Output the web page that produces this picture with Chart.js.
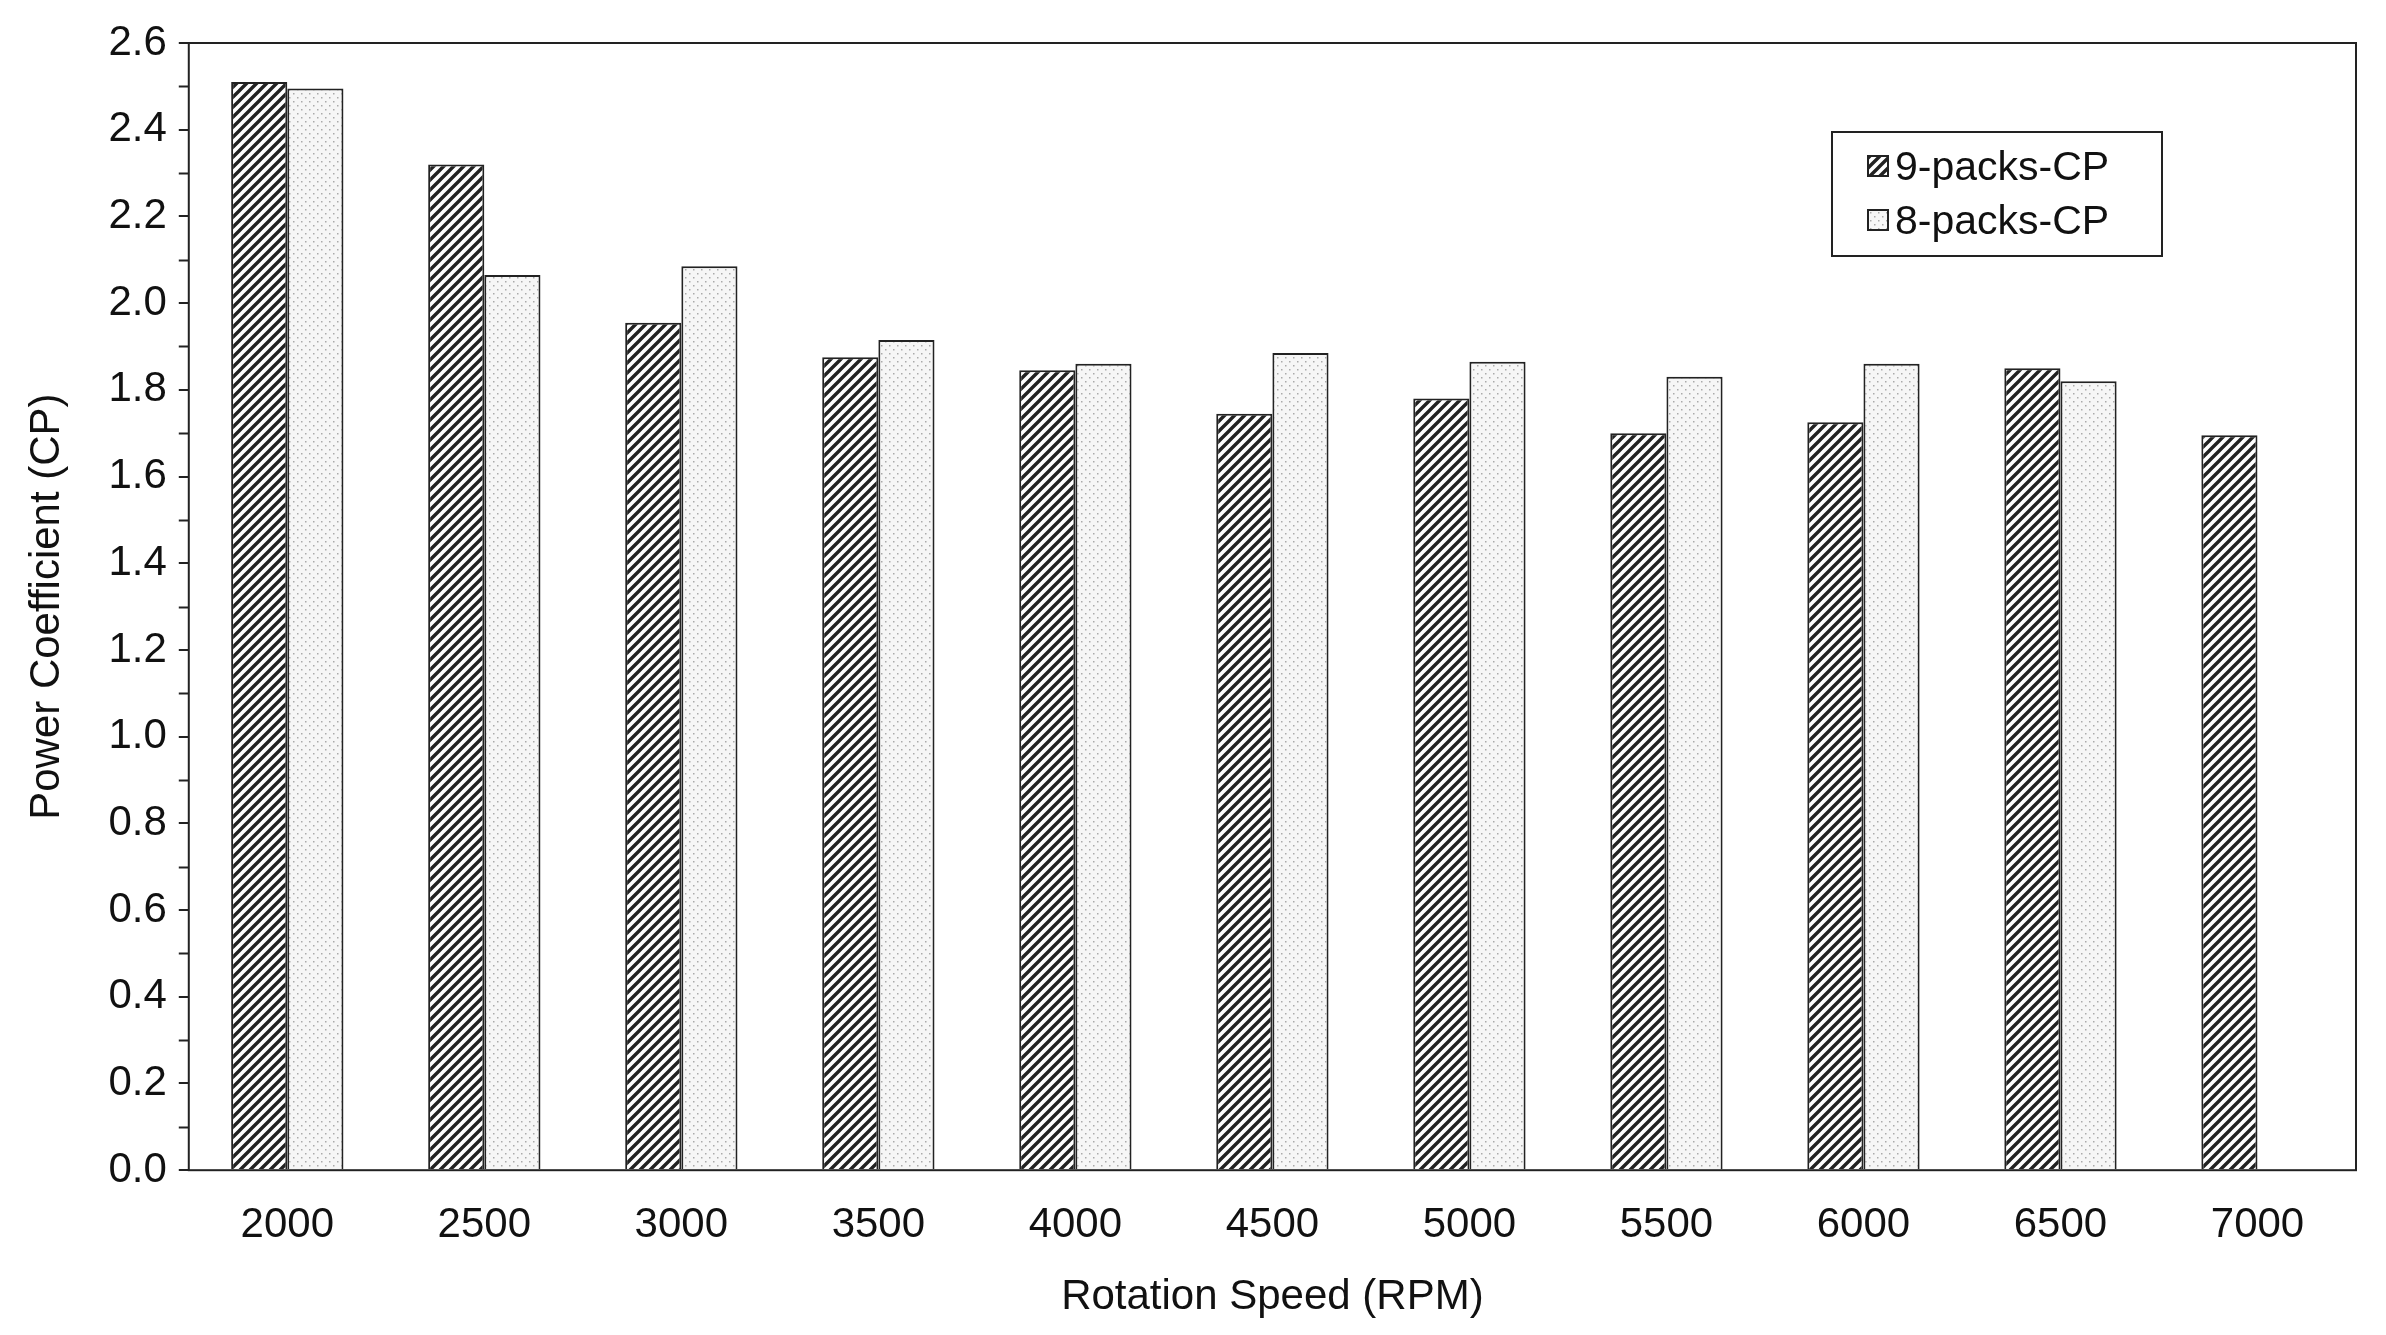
<!DOCTYPE html>
<html>
<head>
<meta charset="utf-8">
<script src="https://cdn.jsdelivr.net/npm/chart.js@4"></script>
<style>
  html, body { margin: 0; padding: 0; background: #fff; }
  #wrap { position: relative; width: 2386px; height: 1335px; }
  #legend {
    position: absolute; left: 1831px; top: 131px; width: 332px; height: 126px;
    border: 2px solid #222; background: #fff; font-family: "Liberation Sans", Arial, sans-serif;
    font-size: 41px; color: #111; box-sizing: border-box; padding: 6px 0 0 34px;
  }
  #legend div { display: flex; align-items: center; height: 54px; }
  #legend canvas { margin-right: 6px; border: 2px solid #222; }
</style>
</head>
<body>
<div id="wrap">
  <canvas id="c" width="2386" height="1335"></canvas>
  <div id="legend">
    <div><canvas id="l1" width="18" height="18"></canvas>9-packs-CP</div>
    <div><canvas id="l2" width="18" height="18"></canvas>8-packs-CP</div>
  </div>
</div>
<script>
const speeds = ["2000", "2500", "3000", "3500", "4000", "4500", "5000", "5500", "6000", "6500", "7000"];
const cp9 = [2.51, 2.32, 1.955, 1.875, 1.845, 1.745, 1.78, 1.70, 1.725, 1.85, 1.695];
const cp8 = [2.495, 2.065, 2.085, 1.915, 1.86, 1.885, 1.865, 1.83, 1.86, 1.82, null];

function hatch() {
  const p = document.createElement("canvas");
  p.width = 10; p.height = 10;
  const g = p.getContext("2d");
  g.fillStyle = "#fff"; g.fillRect(0, 0, 10, 10);
  g.strokeStyle = "#222"; g.lineWidth = 3.4;
  g.beginPath();
  g.moveTo(-2, 12); g.lineTo(12, -2);
  g.moveTo(-7, 7); g.lineTo(7, -7);
  g.moveTo(3, 17); g.lineTo(17, 3);
  g.stroke();
  return p;
}
function dots() {
  const p = document.createElement("canvas");
  p.width = 8; p.height = 8;
  const g = p.getContext("2d");
  g.fillStyle = "#f6f6f6"; g.fillRect(0, 0, 8, 8);
  g.fillStyle = "#aaa";
  g.fillRect(1, 1, 1.5, 1.5);
  g.fillRect(5, 5, 1.5, 1.5);
  return p;
}

const ctx = document.getElementById("c").getContext("2d");
const hatchPat = ctx.createPattern(hatch(), "repeat");
const dotPat = ctx.createPattern(dots(), "repeat");

["l1", "l2"].forEach((id, i) => {
  const g = document.getElementById(id).getContext("2d");
  g.fillStyle = g.createPattern(i === 0 ? hatch() : dots(), "repeat");
  g.fillRect(0, 0, 18, 18);
});

const frame = {
  id: "frame",
  afterDraw(chart) {
    const a = chart.chartArea, g = chart.ctx, y = chart.scales.y;
    g.save();
    g.strokeStyle = "#222"; g.lineWidth = 2;
    g.strokeRect(a.left, a.top, a.right - a.left, a.bottom - a.top);
    // minor ticks
    for (let v = 0.1; v < 2.6; v += 0.2) {
      const py = Math.round(y.getPixelForValue(v)) + 0.5;
      g.beginPath(); g.moveTo(a.left - 10, py); g.lineTo(a.left, py); g.stroke();
    }
    g.restore();
  }
};

const font = { family: "'Liberation Sans', Arial, sans-serif", size: 42 };
const titleFont = { family: font.family, size: 42 };

new Chart(ctx, {
  type: "bar",
  data: {
    labels: speeds,
    datasets: [
      { label: "9-packs-CP", data: cp9, backgroundColor: hatchPat, borderColor: "#222", borderWidth: 2 },
      { label: "8-packs-CP", data: cp8, backgroundColor: dotPat, borderColor: "#222", borderWidth: 2 }
    ]
  },
  options: {
    responsive: false,
    animation: false,
    layout: { padding: { top: 43, right: 30, bottom: 8, left: 18 } },
    plugins: { legend: { display: false }, tooltip: { enabled: false } },
    datasets: { bar: { categoryPercentage: 0.57, barPercentage: 1.0 } },
    scales: {
      x: {
        grid: { display: false },
        border: { display: false },
        ticks: { color: "#111", font: font, padding: 22 },
        title: { display: true, text: "Rotation Speed (RPM)", color: "#111", font: titleFont, padding: { top: 0 } }
      },
      y: {
        min: 0, max: 2.6,
        grid: { drawOnChartArea: false, tickLength: 10, color: "#222", lineWidth: 2 },
        border: { display: false },
        ticks: { stepSize: 0.2, color: "#111", font: font, padding: 12, callback: v => v.toFixed(1) },
        title: { display: true, text: "Power Coefficient (CP)", color: "#111", font: titleFont, padding: { bottom: 24 } }
      }
    }
  },
  plugins: [frame]
});
</script>
</body>
</html>
